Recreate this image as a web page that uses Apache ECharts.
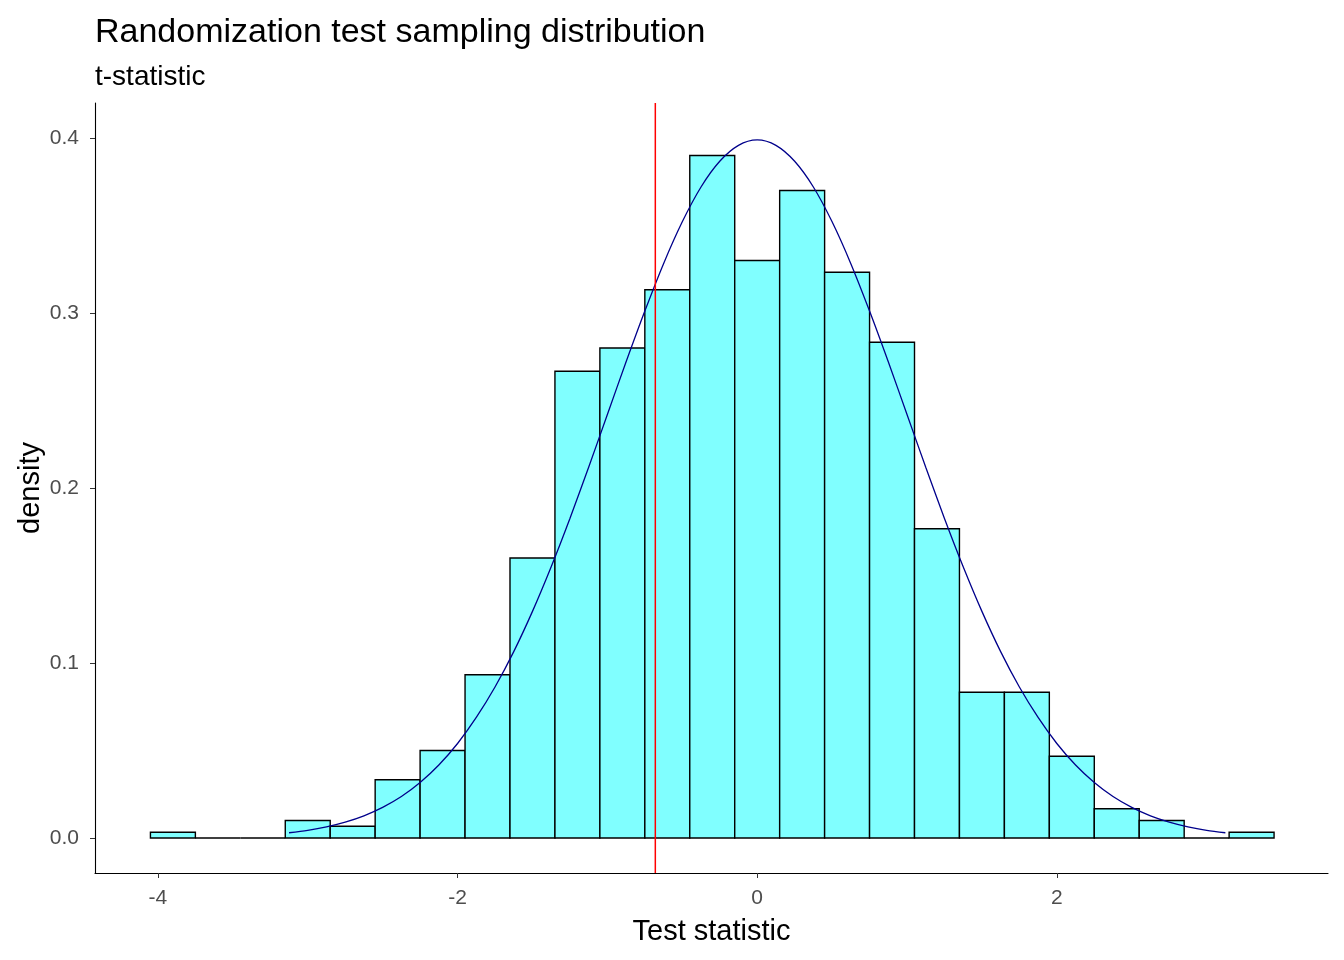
<!DOCTYPE html>
<html>
<head>
<meta charset="utf-8">
<script src="https://cdn.jsdelivr.net/npm/echarts@6/dist/echarts.min.js"></script>
<style>
  html, body { margin: 0; padding: 0; background: #fff; }
  #chart { width: 1344px; height: 960px; }
</style>
</head>
<body>
<div id="chart"></div>
<script>
// bin edges of the histogram (25 bins)
var binEdges = [-4.05, -3.75, -3.45, -3.15, -2.85, -2.55, -2.25, -1.95, -1.65, -1.35,
                -1.05, -0.75, -0.45, -0.15, 0.15, 0.45, 0.75, 1.05, 1.35, 1.65,
                1.95, 2.25, 2.55, 2.85, 3.15, 3.45];
// density of each bin
var binDensity = [0.0033, 0, 0, 0.01, 0.0067, 0.0333, 0.05, 0.0933, 0.16, 0.2667,
                  0.28, 0.3133, 0.39, 0.33, 0.37, 0.3233, 0.2833, 0.1767, 0.0833, 0.0833,
                  0.0467, 0.0167, 0.01, 0, 0.0033];
// normal density curve
var curveX = [-3.125, -3, -2.875, -2.75, -2.625, -2.5, -2.375, -2.25, -2.125, -2, -1.875, -1.75, -1.625,
              -1.5, -1.375, -1.25, -1.125, -1, -0.875, -0.75, -0.625, -0.5, -0.375, -0.25, -0.125,
              0, 0.125, 0.25, 0.375, 0.5, 0.625, 0.75, 0.875, 1, 1.125, 1.25, 1.375, 1.5,
              1.625, 1.75, 1.875, 2, 2.125, 2.25, 2.375, 2.5, 2.625, 2.75, 2.875, 3, 3.125];
var curveY = [0.003, 0.0044, 0.0064, 0.0091, 0.0127, 0.0175, 0.0237, 0.0317, 0.0417, 0.054, 0.0689, 0.0863, 0.1065,
              0.1295, 0.155, 0.1826, 0.2119, 0.242, 0.2721, 0.3011, 0.3282, 0.3521, 0.372, 0.3867, 0.3958,
              0.3989, 0.3958, 0.3867, 0.372, 0.3521, 0.3282, 0.3011, 0.2721, 0.242, 0.2119, 0.1826, 0.155, 0.1295,
              0.1065, 0.0863, 0.0689, 0.054, 0.0417, 0.0317, 0.0237, 0.0175, 0.0127, 0.0091, 0.0064, 0.0044, 0.003];
// observed statistic
var observed = -0.68;
var xTicks = [-4, -2, 0, 2];
var yTicks = [0, 0.1, 0.2, 0.3, 0.4];

var myChart = echarts.init(document.getElementById('chart'));

var bins = [];
for (var i = 0; i < binDensity.length; i++) {
    bins.push([binEdges[i], binEdges[i + 1], binDensity[i]]);
}
var curve = [];
for (var j = 0; j < curveX.length; j++) {
    curve.push([curveX[j], curveY[j]]);
}

var font = 'Liberation Sans, Arial, sans-serif';

var option = {
    animation: false,
    backgroundColor: '#fff',
    title: {
        text: 'Randomization test sampling distribution',
        subtext: 't-statistic',
        left: 90,
        top: 11,
        itemGap: 13,
        textStyle: { fontFamily: font, fontSize: 34, fontWeight: 'normal', color: '#000' },
        subtextStyle: { fontFamily: font, fontSize: 28, color: '#000' }
    },
    grid: { left: 95, right: 16, top: 103, bottom: 87 },
    xAxis: {
        type: 'value',
        min: -4.42,
        max: 3.81,
        name: 'Test statistic',
        nameLocation: 'middle',
        nameGap: 44,
        nameMoveOverlap: false,
        nameTextStyle: { fontFamily: font, fontSize: 29, color: '#000' },
        axisLine: { show: true, onZero: false, lineStyle: { color: '#000', width: 1.1 } },
        axisTick: { show: true, customValues: xTicks, length: 5, lineStyle: { color: '#333' } },
        axisLabel: { customValues: xTicks, margin: 15, fontFamily: font, fontSize: 21, color: '#4D4D4D' },
        splitLine: { show: false }
    },
    yAxis: {
        type: 'value',
        min: -0.02,
        max: 0.42,
        name: 'density',
        nameLocation: 'middle',
        nameGap: 50,
        nameMoveOverlap: false,
        nameTextStyle: { fontFamily: font, fontSize: 29, color: '#000' },
        axisLine: { show: true, onZero: false, lineStyle: { color: '#000', width: 1.1 } },
        axisTick: { show: true, customValues: yTicks, length: 5, lineStyle: { color: '#333' } },
        axisLabel: {
            customValues: yTicks, margin: 16, fontFamily: font, fontSize: 21, color: '#4D4D4D',
            formatter: function (v) { return v.toFixed(1); }
        },
        splitLine: { show: false }
    },
    series: [
        {
            type: 'custom',
            z: 2,
            data: bins,
            encode: { x: [0, 1], y: 2 },
            renderItem: function (params, api) {
                var p0 = api.coord([api.value(0), api.value(2)]);
                var p1 = api.coord([api.value(1), 0]);
                return {
                    type: 'rect',
                    shape: { x: p0[0], y: p0[1], width: p1[0] - p0[0], height: p1[1] - p0[1] },
                    style: { fill: '#80FFFF', stroke: '#000', lineWidth: 1.4 }
                };
            }
        },
        {
            type: 'line',
            z: 3,
            data: curve,
            smooth: 0.3,
            symbol: 'none',
            lineStyle: { color: '#00008B', width: 1.3 }
        },
        {
            type: 'line',
            z: 4,
            data: [[observed, -0.02], [observed, 0.42]],
            symbol: 'none',
            lineStyle: { color: '#FF0000', width: 1.5 }
        }
    ]
};
myChart.setOption(option);
</script>
</body>
</html>
